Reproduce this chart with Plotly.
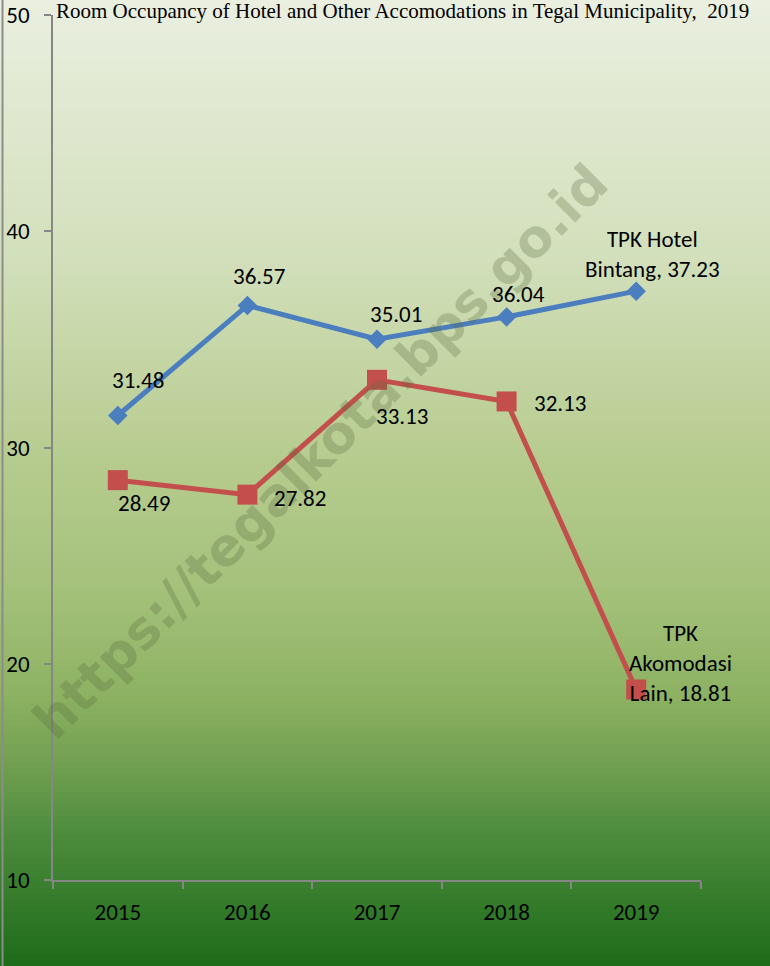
import plotly.graph_objects as go

# ---- data ----
years = ["2015", "2016", "2017", "2018", "2019"]
hotel_bintang = [31.48, 36.57, 35.01, 36.04, 37.23]
akomodasi_lain = [28.49, 27.82, 33.13, 32.13, 18.81]
hotel_labels = ["31.48", "36.57", "35.01", "36.04", "TPK Hotel<br>Bintang, 37.23"]
lain_labels = ["28.49", "27.82", "33.13", "32.13", "TPK<br>Akomodasi<br>Lain, 18.81"]
title_text = "Room Occupancy of Hotel and Other Accomodations in Tegal Municipality,  2019"
watermark = "https://tegalkota.bps.go.id"

W, H = 770, 966
ML, MR, MT, MB = 53, 69, 15, 86
PW, PH = W - ML - MR, H - MT - MB

def px_to_paper_x(x):
    return (x - ML) / PW

def px_to_paper_y(y):
    return (H - MB - y) / PH

# ---- background gradient ----
stops = [(0.0, (0xea, 0xef, 0xe0)), (0.26, (0xd3, 0xe0, 0xbc)), (0.47, (0xb7, 0xcc, 0x90)),
         (0.62, (0xa3, 0xc0, 0x79)), (0.72, (0x8c, 0xb2, 0x62)), (0.79, (0x71, 0xa0, 0x50)),
         (0.87, (0x4a, 0x8a, 0x3b)), (1.0, (0x1d, 0x6c, 0x19))]

def grad(t):
    for (t0, c0), (t1, c1) in zip(stops[:-1], stops[1:]):
        if t0 <= t <= t1:
            f = (t - t0) / (t1 - t0) if t1 > t0 else 0
            return "rgb(%d,%d,%d)" % tuple(round(a + (b - a) * f) for a, b in zip(c0, c1))
    return "rgb(%d,%d,%d)" % stops[-1][1]

shapes = []
N = 161
for i in range(N):
    y0 = i * H / N
    y1 = (i + 1) * H / N + 0.8
    shapes.append(dict(type="rect", xref="paper", yref="paper", layer="below",
                       x0=px_to_paper_x(-5), x1=px_to_paper_x(W + 5),
                       y0=px_to_paper_y(min(y1, H + 2)), y1=px_to_paper_y(y0 - (2 if i == 0 else 0)),
                       line=dict(width=0), fillcolor=grad((i + 0.5) / N)))
# left border line
shapes.append(dict(type="line", xref="paper", yref="paper", layer="above",
                   x0=px_to_paper_x(2.5), x1=px_to_paper_x(2.5),
                   y0=px_to_paper_y(H + 2), y1=px_to_paper_y(-2),
                   line=dict(color="#8c8c8c", width=2)))

BLUE = "#4a7ebe"
RED = "#c24f4c"
font_lbl = "Carlito, Lato, sans-serif"
FS = 23

fig = go.Figure()
fig.add_trace(go.Scatter(x=years, y=hotel_bintang, mode="lines+markers", name="TPK Hotel Bintang",
                         line=dict(color=BLUE, width=5),
                         marker=dict(symbol="diamond", size=15, color=BLUE)))
fig.add_trace(go.Scatter(x=years, y=akomodasi_lain, mode="lines+markers", name="TPK Akomodasi Lain",
                         line=dict(color=RED, width=5),
                         marker=dict(symbol="square", size=20, color=RED)))

annotations = []
# watermark
annotations.append(dict(text="<b>" + watermark + "</b>", xref="paper", yref="paper",
                        x=px_to_paper_x(320), y=px_to_paper_y(452),
                        showarrow=False, textangle=-45,
                        font=dict(family="DejaVu Sans", size=52, color="rgba(85,105,60,0.28)"),
                        xanchor="center", yanchor="middle"))

hotel_off = [(20, -36), (12, -29), (19, -25), (12, -23), (16, -37)]
lain_off = [(26, 23), (53, 3), (25, 36), (53, 2), (44, -26)]
for i, (v, t, (dx, dy)) in enumerate(zip(hotel_bintang, hotel_labels, hotel_off)):
    annotations.append(dict(x=i, y=v, text=t, showarrow=False, xshift=dx, yshift=-dy,
                            font=dict(family=font_lbl, size=FS, color="black"),
                            xanchor="center", yanchor="middle"))
for i, (v, t, (dx, dy)) in enumerate(zip(akomodasi_lain, lain_labels, lain_off)):
    annotations.append(dict(x=i, y=v, text=t, showarrow=False, xshift=dx, yshift=-dy,
                            font=dict(family=font_lbl, size=FS, color="black"),
                            xanchor="center", yanchor="middle"))
# title
annotations.append(dict(text=title_text, xref="paper", yref="paper",
                        x=px_to_paper_x(55), y=px_to_paper_y(11),
                        showarrow=False, xanchor="left", yanchor="middle", borderpad=0,
                        font=dict(family="Liberation Serif, Times New Roman, serif", size=21, color="black")))

fig.update_layout(
    width=W, height=H,
    margin=dict(l=ML, r=MR, t=MT, b=MB, autoexpand=False),
    paper_bgcolor="white", plot_bgcolor="rgba(0,0,0,0)",
    showlegend=False,
    shapes=shapes, annotations=annotations,
    xaxis=dict(type="category", range=[-0.5, 4.5], showgrid=False, zeroline=False, automargin=False,
               showline=True, linecolor="#868686", linewidth=1.5,
               ticks="outside", ticklen=7, tickcolor="#868686", tickwidth=1.5,
               tickson="boundaries", ticklabelstandoff=11,
               tickfont=dict(family=font_lbl, size=FS, color="black")),
    yaxis=dict(range=[10, 50], dtick=10, tick0=10, showgrid=False, zeroline=False, automargin=False,
               showline=True, linecolor="#868686", linewidth=1.5,
               ticks="outside", ticklen=7, tickcolor="#868686", tickwidth=1.5,
               ticklabelstandoff=10,
               tickfont=dict(family=font_lbl, size=FS, color="black")),
)

fig.write_html("out.html", config={"displayModeBar": False},
               post_script="document.body.style.margin='0';")
